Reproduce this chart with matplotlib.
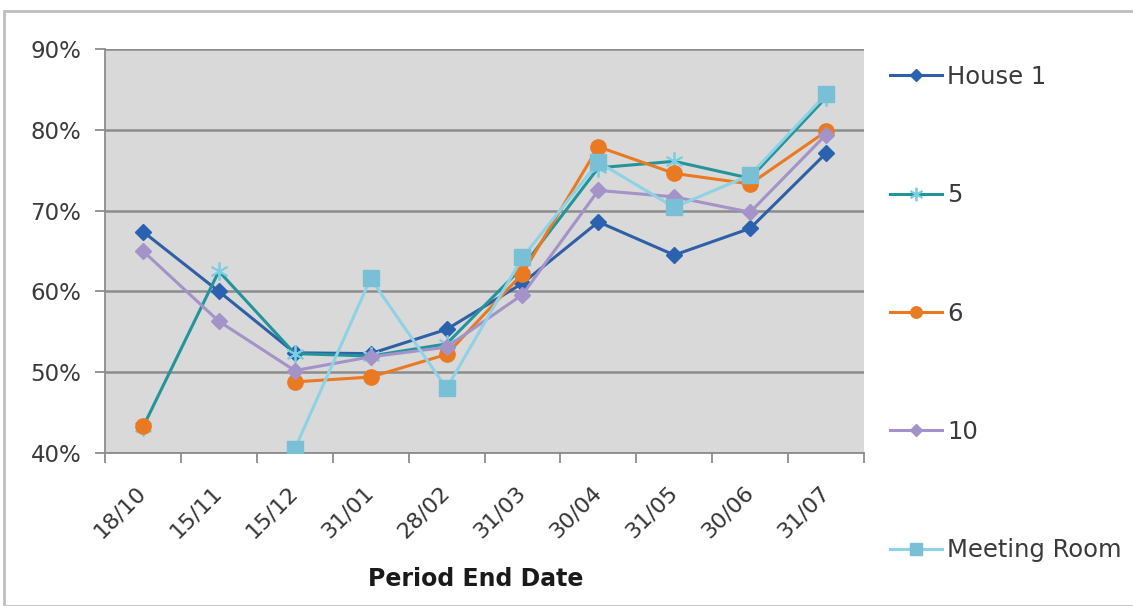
import numpy as np
import matplotlib
matplotlib.use("Agg")
import matplotlib.pyplot as plt
from matplotlib.ticker import PercentFormatter
from matplotlib.patches import Rectangle

categories = ["18/10", "15/11", "15/12", "31/01", "28/02", "31/03", "30/04", "31/05", "30/06", "31/07"]
house1 = [67.4, 60.0, 52.4, 52.3, 55.3, 61.0, 68.6, 64.5, 67.8, 77.1]
s5 = [43.2, 62.5, 52.3, 52.0, 53.5, 63.0, 75.3, 76.1, 74.0, 84.0]
s6 = [43.3, np.nan, 48.8, 49.4, 52.2, 62.2, 77.9, 74.6, 73.3, 79.8]
s10 = [65.0, 56.3, 50.2, 51.9, 53.1, 59.6, 72.5, 71.7, 69.8, 79.4]
meeting = [np.nan, np.nan, 40.5, 61.6, 48.0, 64.2, 76.0, 70.4, 74.4, 84.4]
labels = ["House 1", "5", "6", "10", "Meeting Room"]

plt.rcParams['font.family'] = ['DejaVu Sans']

fig = plt.figure(figsize=(11.33, 6.06), dpi=100)
ax = fig.add_axes([105/1133, 1-453/606, (864-105)/1133, (453-49)/606])
ax.set_facecolor('#d9d9d9')

x = np.arange(len(categories))
lw = 2.2
ax.plot(x, house1, color='#2f5fa6', lw=lw, marker='D', ms=8, mfc='#2b62b0', mec='#2b62b0', label=labels[0], zorder=3)
ax.plot(x, s5, color='#23959a', lw=lw, marker=(6, 2, 0), ms=13, mec='#7ccfe0', mew=1.3, label=labels[1], zorder=4)
ax.plot(x, s6, color='#ea7a22', lw=lw, marker='o', ms=11, mfc='#ea7a22', mec='#ea7a22', label=labels[2], zorder=5)
ax.plot(x, s10, color='#a393c9', lw=lw, marker='D', ms=8, mfc='#a393c9', mec='#a393c9', label=labels[3], zorder=6)
ax.plot(x, meeting, color='#8ed2e6', lw=lw, marker='s', ms=11, mfc='#79bfd6', mec='#79bfd6', label=labels[4], zorder=7)

ax.set_xlim(-0.5, len(categories) - 0.5)
ax.set_ylim(40, 90)
ax.set_yticks(np.arange(40, 91, 10))
ax.yaxis.set_major_formatter(PercentFormatter(decimals=0))
ax.grid(axis='y', color='#8c8c8c', lw=1.8)
ax.set_axisbelow(True)

ax.set_xticks(x)
ax.set_xticklabels(categories, rotation=45, ha='right', va='center', rotation_mode='anchor',
                   fontsize=16, color='#333333')
ax.set_xticks(np.arange(-0.5, len(categories)), minor=True)
ax.tick_params(axis='x', which='major', length=0, pad=26)
ax.tick_params(axis='x', which='minor', length=7, color='#8c8c8c', width=1.3)
ax.tick_params(axis='y', length=7, color='#8c8c8c', width=1.3, labelsize=16.5, labelcolor='#3a3a3a', pad=10)

for s in ['top', 'right']:
    ax.spines[s].set_visible(False)
for s in ['left', 'bottom']:
    ax.spines[s].set_color('#8c8c8c')
    ax.spines[s].set_linewidth(1.3)

ax.set_xlabel("Period End Date", fontsize=17, fontweight='bold', color='#1a1a1a')
ax.xaxis.set_label_coords(0.488, -0.282)

leg = fig.legend(loc='upper left', bbox_to_anchor=(880/1133, 1-55/606), frameon=False,
                 fontsize=17.5, labelspacing=3.885, handlelength=2.15, handletextpad=0.2,
                 labelcolor='#3a3a3a', borderaxespad=0)
for h in leg.legend_handles:
    h.set_markersize(h.get_markersize() * 0.75)

fig.patches.append(Rectangle((4/1133, 0), 1.2, 1 - 11/606, transform=fig.transFigure,
                             fill=False, edgecolor='#bfbfbf', lw=2))

fig.savefig("out.png", dpi=100)
